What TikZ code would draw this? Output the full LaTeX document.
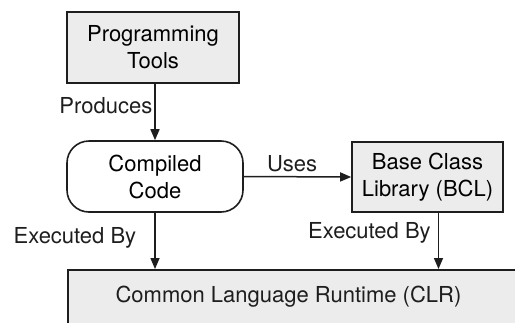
\documentclass[tikz,border=0pt]{standalone}
\usepackage{fontspec}
\setmainfont{TeX Gyre Heros}
\usepackage{tikz}
\usetikzlibrary{arrows.meta}

\definecolor{boxgray}{RGB}{236,236,236}
\definecolor{inkgray}{RGB}{30,30,30}

\tikzset{
  box/.style={draw=inkgray, fill=boxgray, line width=1.6pt, align=center, inner sep=0pt},
  roundbox/.style={draw=inkgray, fill=white, line width=1.6pt, align=center, inner sep=0pt, rounded corners=22pt},
  flow/.style={draw=inkgray, line width=1.5pt, -{Triangle[length=11pt,width=9pt]}},
  lbl/.style={text=inkgray, inner sep=2pt}
}

\begin{document}
\begin{tikzpicture}[x=1pt,y=1pt,yscale=-1,xscale=1, font=\fontsize{22}{27}\selectfont]
\useasboundingbox (0,0) rectangle (515,322);
\clip (0,0) rectangle (515,322);

%Rect: Programming Tools
\node[box, minimum width=172, minimum height=71] (tools) at (153,47.5) {Programming\\Tools};
%Rounded Rect: Compiled Code
\node[roundbox, minimum width=176, minimum height=71] (compiled) at (155,176.5) {Compiled\\Code};
%Rect: Base Class Library
\node[box, minimum width=151, minimum height=70] (bcl) at (427.5,177) {Base Class\\Library (BCL)};
%Rect: Common Language Runtime (runs off the page)
\node[box, anchor=north west, minimum width=500, minimum height=80] (clr) at (67,269) {};
% Text Node
\node[lbl] (clrtext) at (288.5,297) {Common Language Runtime (CLR)};

%Arrows
\draw[flow] (tools.south -| compiled.north) -- node[lbl, left, pos=0.38] {Produces} (compiled.north);
\draw[flow] (compiled.east) -- node[lbl, above, pos=0.45, yshift=2] {Uses} (bcl.west);
\draw[flow] (compiled.south) -- node[lbl, left, pos=0.45, xshift=-16] {Executed By} (compiled.south |- clr.north);
\draw[flow] ([xshift=11]bcl.south) -- node[lbl, left, pos=0.35, xshift=-5] {Executed By} ([xshift=11]bcl.south |- clr.north);

\end{tikzpicture}
\end{document}
